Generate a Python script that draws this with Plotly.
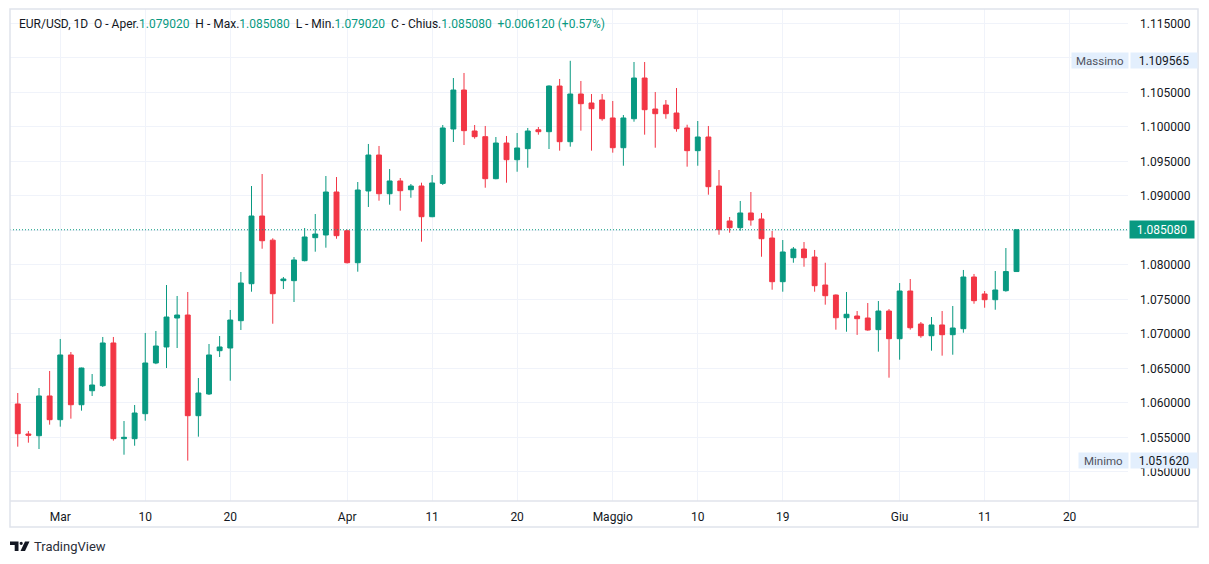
import plotly.graph_objects as go
import pandas as pd

# ---------------- data ----------------
dates = [
    "2023-02-23", "2023-02-24", "2023-02-26", "2023-02-27", "2023-02-28",
    "2023-03-01", "2023-03-02", "2023-03-03", "2023-03-05", "2023-03-06", "2023-03-07", "2023-03-08", "2023-03-09", "2023-03-10",
    "2023-03-12", "2023-03-13", "2023-03-14", "2023-03-15", "2023-03-16", "2023-03-17",
    "2023-03-19", "2023-03-20", "2023-03-21", "2023-03-22", "2023-03-23", "2023-03-24",
    "2023-03-26", "2023-03-27", "2023-03-28", "2023-03-29", "2023-03-30", "2023-03-31",
    "2023-04-02", "2023-04-03", "2023-04-04", "2023-04-05", "2023-04-06", "2023-04-07",
    "2023-04-09", "2023-04-10", "2023-04-11", "2023-04-12", "2023-04-13", "2023-04-14",
    "2023-04-16", "2023-04-17", "2023-04-18", "2023-04-19", "2023-04-20", "2023-04-21",
    "2023-04-23", "2023-04-24", "2023-04-25", "2023-04-26", "2023-04-27", "2023-04-28",
    "2023-04-30", "2023-05-01", "2023-05-02", "2023-05-03", "2023-05-04", "2023-05-05",
    "2023-05-07", "2023-05-08", "2023-05-09", "2023-05-10", "2023-05-11", "2023-05-12",
    "2023-05-14", "2023-05-15", "2023-05-16", "2023-05-17", "2023-05-18", "2023-05-19",
    "2023-05-21", "2023-05-22", "2023-05-23", "2023-05-24", "2023-05-25", "2023-05-26",
    "2023-05-28", "2023-05-29", "2023-05-30", "2023-05-31", "2023-06-01", "2023-06-02",
    "2023-06-04", "2023-06-05", "2023-06-06", "2023-06-07", "2023-06-08", "2023-06-09",
    "2023-06-11", "2023-06-12", "2023-06-13", "2023-06-14",
]

open_ = [
    1.06060, 1.05983, 1.05548, 1.05523, 1.06099,
    1.05755, 1.06693, 1.05972, 1.06175, 1.06248, 1.06867, 1.05480, 1.05480, 1.05842,
    1.06577, 1.06809, 1.07229, 1.07272, 1.05813, 1.06128,
    1.06755, 1.06794, 1.07190, 1.07726, 1.08707, 1.08357,
    1.07770, 1.07770, 1.08060, 1.08393, 1.08432, 1.09055,
    1.08494, 1.08030, 1.09070, 1.09591, 1.09030, 1.09215,
    1.09088, 1.09142, 1.08697, 1.09180, 1.09968, 1.10533,
    1.09939, 1.09857, 1.09248, 1.09765, 1.09523, 1.09683,
    1.09957, 1.09929, 1.10591, 1.09784, 1.10475, 1.10345,
    1.10388, 1.10128, 1.09697, 1.10117, 1.10707, 1.10258,
    1.10316, 1.10200, 1.09983, 1.09654, 1.09852, 1.09142,
    1.08635, 1.08538, 1.08751, 1.08664, 1.08388, 1.07755,
    1.08103, 1.08229, 1.08113, 1.07707, 1.07562, 1.07233,
    1.07258, 1.07229, 1.07060, 1.07330, 1.06929, 1.07620,
    1.07142, 1.06972, 1.07128, 1.06987, 1.07074, 1.07823,
    1.07577, 1.07494, 1.07625, 1.07902,
]
high = [
    1.06180, 1.06142, 1.05591, 1.06214, 1.06461,
    1.06925, 1.06736, 1.06510, 1.06417, 1.06954, 1.06954, 1.05736, 1.05968, 1.07012,
    1.07041, 1.07707, 1.07548, 1.07606, 1.06359, 1.06852,
    1.06968, 1.07345, 1.07896, 1.09142, 1.09316, 1.08384,
    1.07823, 1.08113, 1.08533, 1.08736, 1.09287, 1.09272,
    1.08510, 1.09200, 1.09751, 1.09722, 1.09388, 1.09258,
    1.09171, 1.09190, 1.09301, 1.10026, 1.10707, 1.10780,
    1.10026, 1.10012, 1.09852, 1.09867, 1.09910, 1.09983,
    1.09997, 1.10600, 1.10693, 1.109565, 1.10664, 1.10475,
    1.10475, 1.10374, 1.10171, 1.10939, 1.10939, 1.10504,
    1.10388, 1.10562, 1.10030, 1.10084, 1.10012, 1.09374,
    1.08693, 1.08925, 1.09055, 1.08751, 1.08490, 1.08359,
    1.08258, 1.08330, 1.08215, 1.08030, 1.07570, 1.07606,
    1.07330, 1.07446, 1.07475, 1.07359, 1.07736, 1.07794,
    1.07171, 1.07243, 1.07330, 1.07403, 1.07925, 1.07867,
    1.07620, 1.07910, 1.08243, 1.08508,
]
low = [
    1.05850, 1.05364, 1.05422, 1.05330, 1.05683,
    1.05654, 1.05770, 1.05886, 1.06099, 1.06229, 1.05451, 1.05248, 1.05378, 1.05741,
    1.06560, 1.06504, 1.06794, 1.05162, 1.05509, 1.06113,
    1.06664, 1.06320, 1.07055, 1.07610, 1.08233, 1.07146,
    1.07649, 1.07461, 1.08050, 1.08190, 1.08248, 1.08378,
    1.08020, 1.07900, 1.08838, 1.08929, 1.08871, 1.08784,
    1.08972, 1.08335, 1.08690, 1.09157, 1.09780, 1.09736,
    1.09828, 1.09117, 1.09240, 1.09190, 1.09349, 1.09407,
    1.09886, 1.09678, 1.09654, 1.09712, 1.09944, 1.09654,
    1.10088, 1.09625, 1.09436, 1.10074, 1.09886, 1.09697,
    1.10117, 1.09929, 1.09422, 1.09436, 1.09016, 1.08436,
    1.08465, 1.08494, 1.08567, 1.08117, 1.07639, 1.07610,
    1.08030, 1.07972, 1.07610, 1.07422, 1.07060, 1.07030,
    1.06984, 1.07045, 1.06741, 1.06364, 1.06625, 1.07060,
    1.06943, 1.06755, 1.06683, 1.06697, 1.07016, 1.07436,
    1.07378, 1.07349, 1.07610, 1.07902,
]
close = [
    1.05970, 1.05552, 1.05530, 1.06099, 1.05755,
    1.06693, 1.05972, 1.06504, 1.06258, 1.06867, 1.05480, 1.05500, 1.05852, 1.06577,
    1.06823, 1.07243, 1.07272, 1.05813, 1.06142, 1.06693,
    1.06809, 1.07200, 1.07736, 1.08707, 1.08349, 1.07581,
    1.07794, 1.08070, 1.08403, 1.08446, 1.09055, 1.08422,
    1.08030, 1.09084, 1.09591, 1.09030, 1.09215, 1.09074,
    1.09142, 1.08697, 1.09186, 1.09983, 1.10533, 1.09944,
    1.09857, 1.09248, 1.09765, 1.09523, 1.09693, 1.09939,
    1.09929, 1.10591, 1.09784, 1.10475, 1.10335, 1.10262,
    1.10117, 1.09697, 1.10128, 1.10707, 1.10248, 1.10190,
    1.10190, 1.09973, 1.09654, 1.09852, 1.09132, 1.08509,
    1.08538, 1.08751, 1.08649, 1.08378, 1.07755, 1.08186,
    1.08229, 1.08103, 1.07697, 1.07552, 1.07233, 1.07283,
    1.07219, 1.07055, 1.07330, 1.06929, 1.07620, 1.07088,
    1.06972, 1.07128, 1.06987, 1.07084, 1.07823, 1.07480,
    1.07494, 1.07635, 1.07902, 1.08508,
]

tick_dates = ["2023-03-01", "2023-03-10", "2023-03-20", "2023-04-02", "2023-04-11", "2023-04-20",
              "2023-05-01", "2023-05-10", "2023-05-19", "2023-06-01", "2023-06-11", "2023-06-20"]
tick_labels = ["Mar", "10", "20", "Apr", "11", "20", "Maggio", "10", "19", "Giu", "11", "20"]

price_ticks = [1.050, 1.055, 1.060, 1.065, 1.070, 1.075, 1.080, 1.085, 1.090, 1.095, 1.100, 1.105, 1.110, 1.115]
hidden_price_ticks = [1.085, 1.110]   # covered by the price labels in the reference
max_price = 1.109565
min_price = 1.051620
last_price = 1.085080

# ---------------- time index (bars: every day except Saturday) ----------------
cal = [d for d in pd.date_range("2023-02-23", "2023-06-30") if d.dayofweek != 5]
pos = {d.strftime("%Y-%m-%d"): i for i, d in enumerate(cal)}
xs = [pos[d] for d in dates]
tickvals = [pos[d] for d in tick_dates]

GREEN = "#089981"
RED = "#F23645"
GRID = "#f0f3fa"
TXT = "#131722"
FONT = "Roboto"

W, H = 1209, 564
L, R, T, B = 10, 81, 9, 63
PW, PH = W - L - R, H - T - B


def px(X):
    return (X - L) / PW


def py(Y):
    return (H - B - Y) / PH


fig = go.Figure()
fig.add_trace(go.Candlestick(
    x=xs, open=open_, high=high, low=low, close=close,
    increasing=dict(line=dict(color=GREEN, width=1), fillcolor=GREEN),
    decreasing=dict(line=dict(color=RED, width=1), fillcolor=RED),
    whiskerwidth=0, hoverinfo="skip", showlegend=False,
))

# last price dotted line
fig.add_shape(type="line", xref="paper", yref="y", x0=0, x1=1, y0=last_price, y1=last_price,
              line=dict(color=GREEN, width=1, dash="1px,2px"), layer="above")

# frame
fig.add_shape(type="rect", xref="paper", yref="paper", x0=px(10), x1=px(1198), y0=py(527), y1=py(9),
              line=dict(color="#e0e3eb", width=1.5), layer="above")
fig.add_shape(type="line", xref="paper", yref="paper", x0=px(10), x1=px(1198), y0=py(501), y1=py(501),
              line=dict(color="#e0e3eb", width=1.5), layer="above")

annotations = []
# header legend
hdr = ('EUR/USD, 1D&nbsp; O - Aper.<span style="color:#089981">1.079020</span>&nbsp; '
       'H - Max.<span style="color:#089981">1.085080</span>&nbsp; '
       'L - Min.<span style="color:#089981">1.079020</span>&nbsp; '
       'C - Chius.<span style="color:#089981">1.085080</span>&nbsp; '
       '<span style="color:#089981">+0.006120 (+0.57%)</span>')
annotations.append(dict(xref="paper", yref="paper", x=px(17), y=py(24), xanchor="left", yanchor="middle",
                        text=hdr, showarrow=False, font=dict(family=FONT, size=12, color=TXT)))

# max / min labels
LB = "#e3effd"
for val, name, lx0 in [(max_price, "Massimo", 1071), (min_price, "Minimo", 1078)]:
    annotations.append(dict(xref="paper", yref="y", x=px(1130), y=val, xanchor="left", yanchor="middle",
                            text=f"{val:.6f}", showarrow=False, bgcolor=LB, width=62, height=11, borderpad=2,
                            font=dict(family=FONT, size=12, color=TXT)))
    annotations.append(dict(xref="paper", yref="y", x=px(lx0), y=val, xanchor="left", yanchor="middle",
                            text=name, showarrow=False, bgcolor=LB, width=1127 - lx0 - 4, height=11, borderpad=2,
                            font=dict(family=FONT, size=11.5, color="#50535e")))

# last price label
annotations.append(dict(xref="paper", yref="y", x=px(1129), y=last_price, xanchor="left", yanchor="middle",
                        text=f"{last_price:.6f}", showarrow=False, bgcolor=GREEN, width=60, height=13, borderpad=2,
                        font=dict(family=FONT, size=12, color="white")))

# TradingView logo text
annotations.append(dict(xref="paper", yref="paper", x=px(32), y=py(546), xanchor="left", yanchor="middle",
                        text="TradingView", showarrow=False, font=dict(family=FONT, size=13, color="#2a2e39")))

shapes_logo = [
    dict(type="path", xref="paper", yref="paper",
         path=f"M {px(10)},{py(541.5)} L {px(18.5)},{py(541.5)} L {px(18.5)},{py(551)} L {px(14.7)},{py(551)} "
              f"L {px(14.7)},{py(545)} L {px(10)},{py(545)} Z",
         fillcolor="#131722", line=dict(width=0)),
    dict(type="circle", xref="paper", yref="paper", x0=px(19.6), x1=px(22.8), y0=py(544.9), y1=py(541.7),
         fillcolor="#131722", line=dict(width=0)),
    dict(type="path", xref="paper", yref="paper",
         path=f"M {px(25)},{py(541.5)} L {px(29.5)},{py(541.5)} L {px(25)},{py(551)} L {px(20.5)},{py(551)} Z",
         fillcolor="#131722", line=dict(width=0)),
]
for s in shapes_logo:
    fig.add_shape(**s)

fig.update_layout(
    width=W, height=H,
    margin=dict(l=L, r=R, t=T, b=B, pad=0),
    paper_bgcolor="white", plot_bgcolor="white",
    boxgap=0.34,
    annotations=annotations,
    showlegend=False,
    xaxis=dict(
        range=[0.27, 0.27 + PW / 10.625],
        tickmode="array", tickvals=tickvals, ticktext=tick_labels,
        showgrid=True, gridcolor=GRID, gridwidth=1,
        zeroline=False, showline=False, ticks="",
        ticklabelstandoff=7,
        tickfont=dict(family=FONT, size=12, color=TXT),
        rangeslider=dict(visible=False), fixedrange=True,
    ),
    yaxis=dict(
        side="right",
        range=[1.075 - (H - B - 299.3) / 6900, 1.075 + (299.3 - T) / 6900],
        tickmode="array", tickvals=price_ticks,
        ticktext=["" if v in hidden_price_ticks else f"{v:.6f}" for v in price_ticks],
        showgrid=True, gridcolor=GRID, gridwidth=1,
        zeroline=False, showline=False, ticks="",
        ticklabelstandoff=11,
        tickfont=dict(family=FONT, size=12, color=TXT),
        fixedrange=True,
    ),
)

fig.write_html("out.html", config={"displayModeBar": False},
               post_script="document.body.style.margin='0px';document.body.style.overflow='hidden';")
